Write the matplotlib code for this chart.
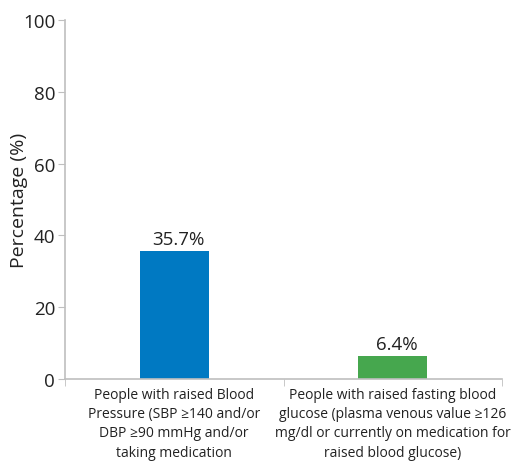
import matplotlib.pyplot as plt

plt.rcParams['font.family'] = ['Open Sans', 'DejaVu Sans']

categories = [
    'People with raised Blood\nPressure (SBP \u2265140 and/or\nDBP \u226590 mmHg and/or\ntaking medication',
    'People with raised fasting blood\nglucose (plasma venous value \u2265126\nmg/dl or currently on medication for\nraised blood glucose)',
]
values = [35.7, 6.4]
colors = ['#0079C2', '#46A74E']
yticks = [0, 20, 40, 60, 80, 100]

fig = plt.figure(figsize=(5.15, 4.64), dpi=100)
ax = fig.add_axes([0.126, 0.181, 0.849, 0.774])

x = list(range(len(values)))
bars = ax.bar(x, values, width=0.316, color=colors)
for b, v in zip(bars, values):
    ax.annotate(f'{v}%', (b.get_x() + b.get_width() / 2 + 0.02, v), xytext=(0, 2),
                textcoords='offset points', ha='center', va='bottom',
                fontsize=13.5, color='#222222')

ax.set_xlim(-0.5, len(values) - 0.5)
ax.set_ylim(0, 100)
ax.set_yticks(yticks)
ax.set_xticks(x)
ax.set_xticklabels(categories, fontsize=10, color='#222222', linespacing=1.37)
ax.set_xticks([-0.5, 0.5, 1.5], minor=True)
ax.tick_params(axis='x', which='major', length=0, pad=6)
ax.tick_params(axis='x', which='minor', length=5, color='#BFBFBF')
ax.tick_params(axis='y', length=5, color='#BFBFBF', labelsize=13.5, labelcolor='#222222', pad=2)
ax.set_ylabel('Percentage (%)', fontsize=14, color='#222222')
ax.yaxis.set_label_coords(-0.085, 0.5)

for side in ['top', 'right']:
    ax.spines[side].set_visible(False)
for side in ['left', 'bottom']:
    ax.spines[side].set_color('#BFBFBF')
    ax.spines[side].set_linewidth(1.2)

fig.savefig('out.png', dpi=100)
